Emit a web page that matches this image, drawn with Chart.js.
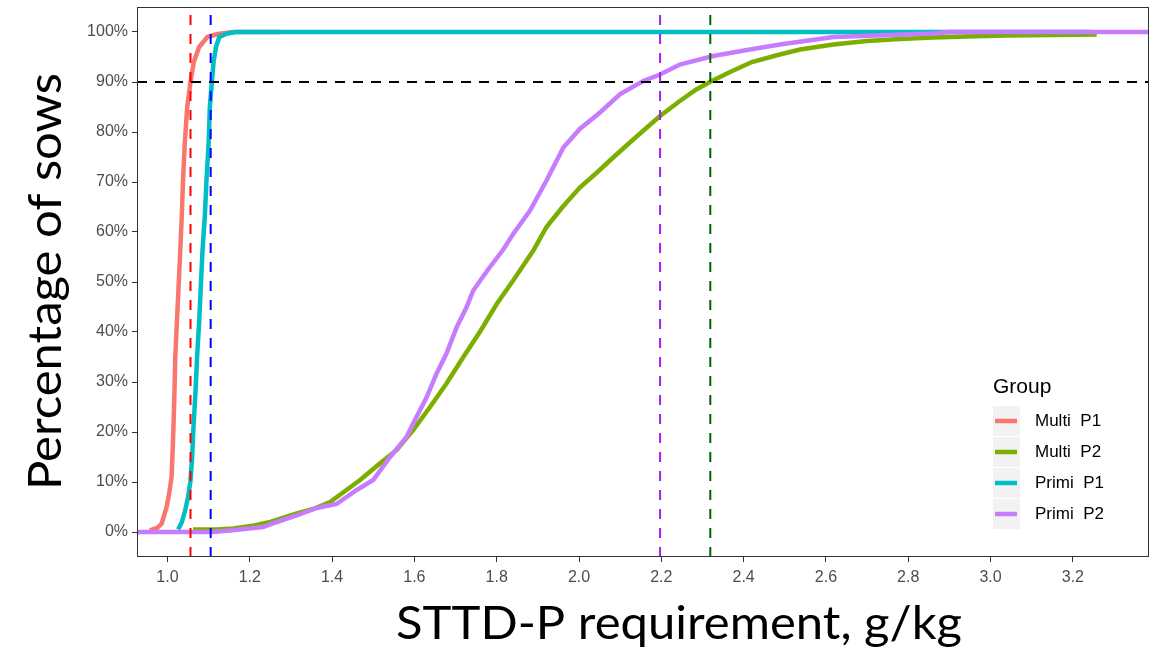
<!DOCTYPE html>
<html>
<head>
<meta charset="utf-8">
<script src="https://cdn.jsdelivr.net/npm/chart.js@4.4.1/dist/chart.umd.min.js"></script>
<style>
  body { margin: 0; background: #fff; }
  #wrap { width: 1153px; height: 656px; }
</style>
</head>
<body>
<div id="wrap"><canvas id="chart" width="1153" height="656"></canvas></div>
<script>
// axis ticks
const xTicks = [1.0, 1.2, 1.4, 1.6, 1.8, 2.0, 2.2, 2.4, 2.6, 2.8, 3.0, 3.2];
const yTicks = [0, 10, 20, 30, 40, 50, 60, 70, 80, 90, 100];
const xMin = 0.926, xMax = 3.385;
const yMin = -5, yMax = 105;

// groups (legend order)
const groupNames = ['Multi  P1', 'Multi  P2', 'Primi  P1', 'Primi  P2'];
const groupColors = ['#F8766D', '#7CAE00', '#00BFC4', '#C77CFF'];

// cumulative % of sows vs STTD-P requirement
const multiP1X = [0.957, 0.975, 0.986, 0.998, 1.004, 1.010, 1.013, 1.015, 1.017, 1.019, 1.023, 1.027, 1.031, 1.035, 1.038, 1.042, 1.048, 1.056, 1.064, 1.077, 1.097, 1.122, 1.16, 1.273];
const multiP1Y = [0.3, 0.8, 1.7, 5, 7.6, 11, 17, 22, 28, 35, 42, 49, 56, 63.5, 70.6, 77.7, 85, 90, 94, 97, 99, 99.6, 100, 100];

const multiP2X = [1.062, 1.12, 1.16, 1.21, 1.25, 1.314, 1.354, 1.395, 1.435, 1.468, 1.516, 1.557, 1.597, 1.638, 1.678, 1.719, 1.759, 1.800, 1.840, 1.889, 1.921, 1.960, 2.002, 2.045, 2.083, 2.125, 2.165, 2.197, 2.245, 2.285, 2.318, 2.367, 2.42, 2.488, 2.537, 2.618, 2.699, 2.780, 2.861, 2.942, 3.039, 3.258];
const multiP2Y = [0.5, 0.5, 0.7, 1.3, 2, 3.7, 4.6, 6, 8.4, 10.4, 13.7, 16.4, 20.4, 25, 29.7, 35, 40, 45.6, 50.3, 56.3, 61, 65, 68.9, 72, 74.9, 78, 80.9, 83.2, 86.2, 88.5, 90, 92, 94, 95.5, 96.5, 97.5, 98.2, 98.6, 98.9, 99.1, 99.3, 99.5];

const primiP1X = [1.026, 1.035, 1.043, 1.050, 1.056, 1.060, 1.063, 1.068, 1.072, 1.077, 1.081, 1.085, 1.091, 1.095, 1.100, 1.103, 1.108, 1.112, 1.118, 1.126, 1.146, 1.165, 3.242];
const primiP1Y = [0.5, 2, 4.3, 7, 10.3, 15, 20.7, 27.8, 35, 42, 49, 56, 63.5, 70.6, 77.7, 85, 90, 94, 97, 99, 99.7, 100, 100];

const primiP2X = [0.926, 1.11, 1.152, 1.232, 1.266, 1.314, 1.363, 1.411, 1.460, 1.500, 1.541, 1.581, 1.597, 1.630, 1.654, 1.678, 1.703, 1.727, 1.743, 1.780, 1.816, 1.840, 1.881, 1.921, 1.962, 2.002, 2.051, 2.100, 2.156, 2.197, 2.245, 2.326, 2.408, 2.488, 2.618, 2.861, 2.90, 3.385];
const primiP2Y = [0, 0, 0.3, 1, 2, 3.3, 4.8, 5.6, 8.4, 10.4, 15, 19, 21.7, 27, 31.7, 35.7, 41, 45, 48.3, 52.6, 56.5, 59.6, 64.3, 70.3, 76.9, 80.6, 83.9, 87.6, 90.2, 91.5, 93.5, 95.2, 96.4, 97.5, 99, 99.7, 100, 100];

// 90th percentile cut-offs per group and the 90 % reference
const cutoffX = [1.056, 1.105, 2.197, 2.319];
const cutoffColors = ['#FF0000', '#0000FF', '#A020F0', '#006400'];
const targetPct = 90;

const seriesX = [multiP1X, multiP2X, primiP1X, primiP2X];
const seriesY = [multiP1Y, multiP2Y, primiP1Y, primiP2Y];

function toPoints(xs, ys) {
    return xs.map((x, i) => ({ x: x, y: ys[i] }));
}

const datasets = [];
groupNames.forEach((name, i) => {
    datasets.push({
        label: name,
        data: toPoints(seriesX[i], seriesY[i]),
        borderColor: groupColors[i],
        borderWidth: 4.5,
        pointRadius: 0,
        tension: 0,
        borderJoinStyle: 'miter',
        order: groupNames.length - i
    });
});
cutoffX.forEach((c, i) => {
    datasets.push({
        label: 'cut' + i,
        data: [{ x: c, y: yMin }, { x: c, y: yMax }],
        borderColor: cutoffColors[i],
        borderWidth: 2,
        borderDash: [10, 9],
        pointRadius: 0,
        order: 0
    });
});
datasets.push({
    label: 'target',
    data: [{ x: xMin, y: targetPct }, { x: xMax, y: targetPct }],
    borderColor: '#000000',
    borderWidth: 2,
    borderDash: [10, 8],
    pointRadius: 0,
    order: 0
});

// border, axis titles and the "Group" legend
const decorations = {
    id: 'decorations',
    afterDraw(chart) {
        const ctx = chart.ctx;
        const a = chart.chartArea;

        ctx.save();
        ctx.strokeStyle = '#333333';
        ctx.lineWidth = 1;
        ctx.strokeRect(a.left + 0.5, a.top + 0.5, a.right - a.left - 1, a.bottom - a.top - 1);
        ctx.restore();

        // axis titles
        function stretchedText(text, cx, cy, rot, size, target) {
            ctx.save();
            ctx.translate(cx, cy);
            ctx.rotate(rot);
            ctx.font = size + 'px Lato, "Open Sans", sans-serif';
            ctx.fillStyle = '#000';
            ctx.textAlign = 'center';
            ctx.textBaseline = 'alphabetic';
            const w = ctx.measureText(text).width;
            ctx.scale(target / w, 1);
            ctx.fillText(text, 0, 0);
            ctx.restore();
        }
        stretchedText('Percentage of sows', 61, 281.5, -Math.PI / 2, 46, 417);
        stretchedText('STTD-P requirement, g/kg', 679, 639, 0, 46, 566);

        // legend
        ctx.save();
        ctx.fillStyle = '#000';
        ctx.textBaseline = 'alphabetic';
        ctx.textAlign = 'left';
        ctx.font = '21px "Liberation Sans", Arial, sans-serif';
        ctx.fillText('Group', 993, 393);
        ctx.font = '17px "Liberation Sans", Arial, sans-serif';
        ctx.textBaseline = 'middle';
        groupNames.forEach((name, i) => {
            const top = 406 + i * 31;
            ctx.fillStyle = '#F2F2F2';
            ctx.fillRect(993, top, 27, 30);
            ctx.strokeStyle = groupColors[i];
            ctx.lineWidth = 4.5;
            ctx.beginPath();
            ctx.moveTo(995, top + 15);
            ctx.lineTo(1017, top + 15);
            ctx.stroke();
            ctx.fillStyle = '#000';
            ctx.fillText(name, 1035, top + 15.5);
        });
        ctx.restore();
    }
};

const tickFont = { family: '"Liberation Sans", Arial, sans-serif', size: 16 };

new Chart(document.getElementById('chart').getContext('2d'), {
    type: 'line',
    data: { datasets: datasets },
    options: {
        responsive: false,
        animation: false,
        layout: { padding: { top: 7, right: 4, left: 0, bottom: 0 } },
        plugins: {
            legend: { display: false },
            tooltip: { enabled: false }
        },
        scales: {
            x: {
                type: 'linear',
                min: xMin,
                max: xMax,
                afterBuildTicks: axis => { axis.ticks = xTicks.map(v => ({ value: v })); },
                afterFit: axis => { axis.height = 99; axis.paddingLeft = 0; axis.paddingRight = 0; },
                ticks: {
                    font: tickFont,
                    color: '#4D4D4D',
                    padding: 6,
                    maxRotation: 0,
                    autoSkip: false,
                    callback: v => Number(v).toFixed(1)
                },
                grid: { drawOnChartArea: false, drawTicks: true, tickLength: 5, tickColor: '#333333' },
                border: { display: false }
            },
            y: {
                type: 'linear',
                min: yMin,
                max: yMax,
                afterBuildTicks: axis => { axis.ticks = yTicks.map(v => ({ value: v })); },
                afterFit: axis => { axis.width = 137; axis.paddingTop = 0; axis.paddingBottom = 0; },
                ticks: {
                    font: tickFont,
                    color: '#4D4D4D',
                    padding: 4,
                    autoSkip: false,
                    callback: v => v + '%'
                },
                grid: { drawOnChartArea: false, drawTicks: true, tickLength: 5, tickColor: '#333333' },
                border: { display: false }
            }
        }
    },
    plugins: [decorations]
});
</script>
</body>
</html>
